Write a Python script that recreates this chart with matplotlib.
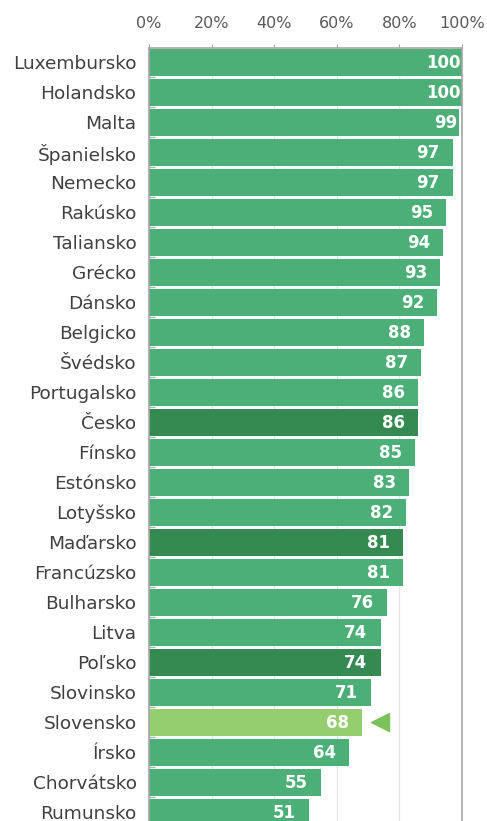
import matplotlib.pyplot as plt
from matplotlib.transforms import ScaledTranslation


countries = [
    "Luxembursko", "Holandsko", "Malta", "Španielsko", "Nemecko",
    "Rakúsko", "Taliansko", "Grécko", "Dánsko", "Belgicko",
    "Švédsko", "Portugalsko", "Česko", "Fínsko", "Estónsko",
    "Lotyšsko", "Maďarsko", "Francúzsko", "Bulharsko", "Litva",
    "Poľsko", "Slovinsko", "Slovensko", "Írsko", "Chorvátsko",
    "Rumunsko",
]
values = [
    100, 100, 99, 97, 97,
    95, 94, 93, 92, 88,
    87, 86, 86, 85, 83,
    82, 81, 81, 76, 74,
    74, 71, 68, 64, 55,
    51,
]
tick_values = [0, 20, 40, 60, 80, 100]
tick_labels = ["0%", "20%", "40%", "60%", "80%", "100%"]
v4_countries = ["Česko", "Maďarsko", "Poľsko"]
home_country = "Slovensko"

color_base = "#4caf78"
color_v4 = "#348a50"
color_home = "#95cd6f"
color_arrow = "#7cc25a"


def bar_color(name: str) -> str:
    if name == home_country:
        return color_home
    if name in v4_countries:
        return color_v4
    return color_base


def main() -> None:
    plt.rcParams["font.family"] = ["DejaVu Sans"]
    dpi = 100
    fig = plt.figure(figsize=(487 / dpi, 821 / dpi), dpi=dpi)
    ax = fig.add_axes([149 / 487, 0.0, (462 - 149) / 487, 1 - 48 / 821])

    ypos = list(range(len(countries)))
    ax.barh(ypos, values, height=0.9, color=[bar_color(c) for c in countries], zorder=2)

    ax.set_xlim(0, 100)
    ax.set_ylim(25.3, -0.467)

    # Grid and frame
    ax.set_xticks(tick_values)
    ax.xaxis.grid(True, color="#e4e4e4", linewidth=0.9, zorder=0)
    ax.set_axisbelow(True)
    for side in ("left", "top", "right"):
        ax.spines[side].set_color("#a6a6a6")
        ax.spines[side].set_linewidth(1.2)
    ax.spines["bottom"].set_visible(False)

    # Axis labels
    ax.xaxis.tick_top()
    ax.set_xticklabels(tick_labels)
    ax.tick_params(axis="x", which="major", length=3, color="#a6a6a6", pad=9.5,
                   labelsize=11.5, labelcolor="#595959")
    ax.set_yticks(ypos)
    ax.set_yticklabels(countries)
    ax.tick_params(axis="y", which="major", length=0, pad=9,
                   labelsize=13.3, labelcolor="#404040")
    ax.set_yticks([y + 0.5 for y in ypos[:-1]], minor=True)
    ax.tick_params(axis="y", which="minor", direction="in", length=4,
                   color="#b0b0b0", width=1)

    # Value labels inside bar ends
    for y, val in zip(ypos, values):
        pad_px = 1 if val >= 99 else 13
        ax.annotate(
            f"{val}", xy=(val, y), xytext=(-pad_px * 72 / dpi, -1),
            textcoords="offset points", ha="right", va="center",
            color="white", fontsize=12, fontweight="bold", zorder=3,
        )

    # Marker next to the home country
    home_idx = countries.index(home_country)
    offset = ScaledTranslation(18 / dpi, 0, fig.dpi_scale_trans)
    ax.plot(values[home_idx], home_idx, marker="<", markersize=13,
            color=color_arrow, transform=ax.transData + offset,
            clip_on=False, zorder=4)

    fig.savefig("out.png", dpi=dpi)


if __name__ == "__main__":
    main()
